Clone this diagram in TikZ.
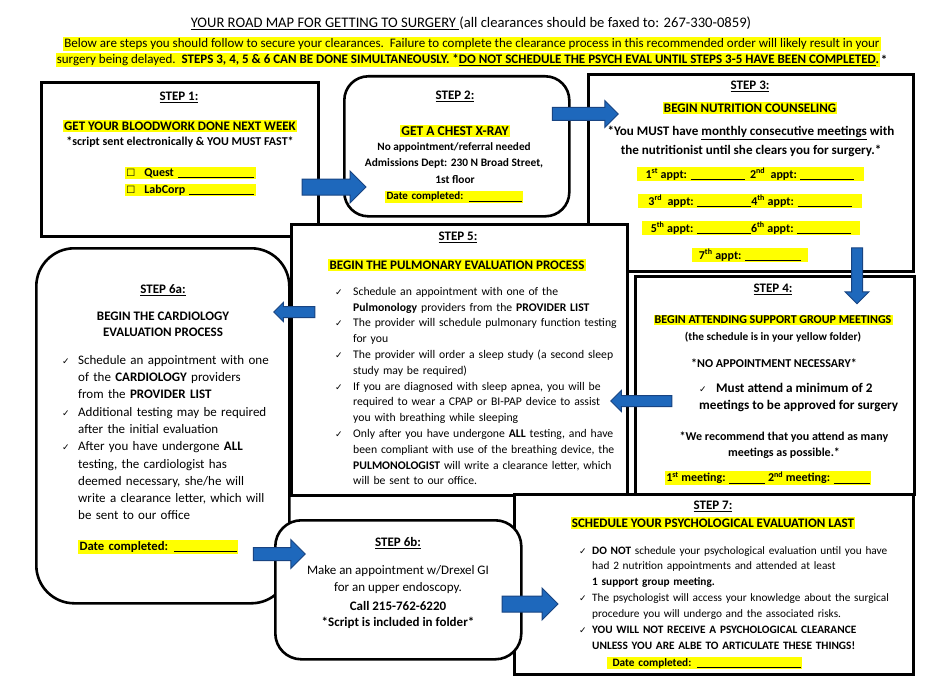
\documentclass[tikz,border=0pt]{standalone}
\usepackage{fontspec}
\setmainfont{Carlito}
\newfontfamily\symfont{DejaVu Sans}
\usetikzlibrary{shapes.arrows}

\definecolor{hlyellow}{RGB}{255,255,0}
\definecolor{arrowblue}{RGB}{30,104,188}
\definecolor{arrowedge}{RGB}{24,68,130}

\newlength\ckw
\newcommand\chk{{\symfont\fontsize{9}{9}\selectfont ✓}}
\newcommand\citem{\makebox[\ckw][l]{\chk}}
\newcommand\cindent{\hspace*{\ckw}}
\newcommand\ckbox{{\symfont\fontsize{10}{10}\selectfont ☐}}
\newcommand\blank[1]{\rule[-1.4pt]{#1}{0.6pt}}
\newcommand\fillblank{\leavevmode\leaders\hrule height -0.8pt depth 1.4pt\hfill\kern0pt}

\begin{document}
\begin{tikzpicture}[x=1pt, y=-1pt,
  box/.style={draw, line width=2.6pt, fill=white, inner sep=0pt, anchor=north west},
  stepno/.style={font=\bfseries\fontsize{13}{15}\selectfont, inner sep=0pt},
  bold/.style={font=\bfseries\fontsize{12}{14}\selectfont, inner sep=0pt},
  plain/.style={font=\fontsize{12}{14}\selectfont, inner sep=0pt},
  hilite/.style={fill=hlyellow, inner sep=1.2pt},
  checks/.style={align=left, anchor=north west, inner sep=0pt},
  barrow/.style={single arrow, draw=arrowedge, fill=arrowblue, line width=1pt,
                 inner xsep=0pt, inner ysep=7.5pt, single arrow head extend=8pt}
]
\useasboundingbox (0,0) rectangle (944,690);

% header
\node[plain, font=\fontsize{14.6}{16}\selectfont] (title) at (471,23)
  {\underline{YOUR ROAD MAP FOR GETTING TO SURGERY\ }(all clearances should be faxed to: 267-330-0859)};
\node[plain, hilite, font=\fontsize{13}{15}\selectfont] (intro1) at (472,44)
  {Below are steps you should follow to secure your clearances.\ \ Failure to complete the clearance process in this recommended order will likely result in your};
\node[plain, hilite, font=\fontsize{13}{15}\selectfont] (intro2) at (468,60)
  {surgery being delayed.\ \ \textbf{STEPS 3, 4, 5 \& 6 CAN BE DONE SIMULTANEOUSLY. *\underline{DO NOT SCHEDULE THE PSYCH EVAL UNTIL STEPS 3-5 HAVE BEEN COMPLETED}.}};
\node[bold, anchor=west, font=\bfseries\fontsize{13}{15}\selectfont] (star) at (intro2.east) {*};

% boxes
\node[box, minimum width=277pt, minimum height=154pt] (s1) at (40,81) {};
\node[box, rounded corners=24pt, minimum width=225pt, minimum height=140pt] (s2) at (343,75) {};
\node[box, minimum width=325pt, minimum height=197pt] (s3) at (587,73) {};
\node[box, minimum width=279pt, minimum height=218pt] (s4) at (634,275) {};
\node[box, minimum width=336pt, minimum height=271pt] (s5) at (290,223) {};
\node[box, rounded corners=38pt, minimum width=253pt, minimum height=355pt] (s6a) at (35,247) {};
\node[box, minimum width=399pt, minimum height=180pt] (s7) at (513,493) {};
\node[box, rounded corners=26pt, minimum width=246pt, minimum height=139pt] (s6b) at (274,519) {};

% step 1
\node[stepno] (t1) at (179,97) {\underline{STEP 1:}};
\node[stepno, hilite] (h1) at (180,126) {GET YOUR BLOODWORK DONE NEXT WEEK};
\node[bold] (n1) at (180,142) {*script sent electronically \& YOU MUST FAST*};
\node[bold, hilite, anchor=west, text width=128pt, align=left] (quest) at (125,173)
  {\ckbox\hspace{9pt}Quest \fillblank};
\node[bold, hilite, anchor=west, text width=128pt, align=left] (labcorp) at (125,190)
  {\ckbox\hspace{9pt}LabCorp \fillblank};

% step 2
\node[stepno] (t2) at (455,96) {\underline{STEP 2:}};
\node[stepno, hilite, font=\bfseries\fontsize{13.5}{15}\selectfont] (h2) at (455,131) {GET A CHEST X-RAY};
\node[bold, font=\bfseries\fontsize{11.2}{13}\selectfont] (n2a) at (454,147) {No appointment/referral needed};
\node[bold, font=\bfseries\fontsize{11.4}{13}\selectfont] (n2b) at (454,163) {Admissions Dept: 230 N Broad Street,};
\node[bold, font=\bfseries\fontsize{11.4}{13}\selectfont] (n2c) at (455,180) {1st floor};
\node[bold, hilite, font=\bfseries\fontsize{11}{13}\selectfont, text width=135pt, align=left] (d2) at (454,197)
  {Date completed: \fillblank};

% step 3
\node[stepno] (t3) at (750,86) {\underline{STEP 3:}};
\node[stepno, hilite] (h3) at (750,108) {BEGIN NUTRITION COUNSELING};
\node[bold, font=\bfseries\fontsize{13.1}{15}\selectfont] (n3a) at (751,133)
  {*You MUST have \underline{monthly consecutive meetings} with};
\node[bold, font=\bfseries\fontsize{13.1}{15}\selectfont] (n3b) at (751,151)
  {the nutritionist until she clears you for surgery.*};
\node[bold, hilite, minimum width=227pt] (ap12) at (750,174)
  {1\textsuperscript{st} appt: \blank{54pt}\ \ 2\textsuperscript{nd}\ \ appt: \blank{54pt}};
\node[bold, hilite, minimum width=224pt] (ap34) at (750,201)
  {3\textsuperscript{rd}\ \ appt: \blank{54pt}4\textsuperscript{th} appt: \blank{54pt}};
\node[bold, hilite, minimum width=218pt] (ap56) at (751,228)
  {5\textsuperscript{th} appt: \blank{54pt}6\textsuperscript{th} appt: \blank{54pt}};
\node[bold, hilite, minimum width=116pt] (ap7) at (750,255)
  {7\textsuperscript{th} appt: \blank{56pt}};

% step 4
\node[stepno] (t4) at (773,289) {\underline{STEP 4:}};
\node[bold, hilite] (h4) at (773,320) {BEGIN ATTENDING SUPPORT GROUP MEETINGS};
\node[bold, font=\bfseries\fontsize{11.3}{13}\selectfont] (n4a) at (773,337) {(the schedule is in your yellow folder)};
\node[bold] (n4b) at (774,363) {*NO APPOINTMENT NECESSARY*};
\node[checks, font=\bfseries\fontsize{13.2}{17}\selectfont\setlength\ckw{17pt}] (l4) at (699,383)
  {\citem Must attend a minimum of 2\\meetings to be approved for surgery};
\node[bold] (n4c) at (784,437) {*We recommend that you attend as many};
\node[bold] (n4d) at (784,453) {meetings as possible.*};
\node[bold, hilite, minimum width=206pt] (mt) at (768,478)
  {1\textsuperscript{st} meeting: \blank{36pt}\ 2\textsuperscript{nd} meeting: \blank{36pt}};

% step 5
\node[stepno] (t5) at (458,237) {\underline{STEP 5:}};
\node[stepno, hilite] (h5) at (457,265) {BEGIN THE PULMONARY EVALUATION PROCESS};
\node[checks, text width=285pt, font=\fontsize{11.7}{15.8}\selectfont\setlength\ckw{18pt}] (l5) at (335,287)
  {\citem Schedule an appointment with one of the\\
   \cindent \textbf{Pulmonology} providers from the \textbf{PROVIDER LIST}\\
   \citem The provider will schedule pulmonary function testing\\
   \cindent for you\\
   \citem The provider will order a sleep study (a second sleep\\
   \cindent study may be required)\\
   \citem If you are diagnosed with sleep apnea, you will be\\
   \cindent required to wear a CPAP or BI-PAP device to assist\\
   \cindent you with breathing while sleeping\\
   \citem Only after you have undergone \textbf{ALL} testing, and have\\
   \cindent been compliant with use of the breathing device, the\\
   \cindent \textbf{PULMONOLOGIST} will write a clearance letter, which\\
   \cindent will be sent to our office.};

% step 6a
\node[stepno] (t6a) at (163,290) {\underline{STEP 6a:}};
\node[bold, font=\bfseries\fontsize{13}{16}\selectfont, align=center] (h6a) at (163,324)
  {BEGIN THE CARDIOLOGY\\EVALUATION PROCESS};
\node[checks, text width=215pt, font=\fontsize{13}{17.3}\selectfont\setlength\ckw{16pt}] (l6a) at (62,355)
  {\citem Schedule an appointment with one\\
   \cindent of the \textbf{CARDIOLOGY} providers\\
   \cindent from the \textbf{PROVIDER LIST}\\
   \citem Additional testing may be required\\
   \cindent after the initial evaluation\\
   \citem After you have undergone \textbf{ALL}\\
   \cindent testing, the cardiologist has\\
   \cindent deemed necessary, she/he will\\
   \cindent write a clearance letter, which will\\
   \cindent be sent to our office};
\node[bold, hilite, font=\bfseries\fontsize{12.7}{14}\selectfont, text width=157pt, align=left] (d6a) at (158,547)
  {Date completed: \fillblank};

% step 6b
\node[stepno] (t6b) at (398,543) {\underline{STEP 6b:}};
\node[plain, font=\fontsize{13}{17}\selectfont, align=center] (n6b) at (398,580)
  {Make an appointment w/Drexel GI\\for an upper endoscopy.};
\node[bold, font=\bfseries\fontsize{13}{15}\selectfont] (c6b) at (398,606) {Call 215-762-6220};
\node[bold, font=\bfseries\fontsize{13}{15}\selectfont] (s6bn) at (398,623) {*Script is included in folder*};

% step 7
\node[stepno] (t7) at (713,506) {\underline{STEP 7:}};
\node[stepno, hilite] (h7) at (713,523) {SCHEDULE YOUR PSYCHOLOGICAL EVALUATION LAST};
\node[checks, text width=318pt, font=\fontsize{11.3}{15.9}\selectfont\setlength\ckw{13pt}] (l7) at (579,546)
  {\citem \textbf{DO NOT} schedule your psychological evaluation until you have\\
   \cindent had 2 nutrition appointments and attended at least\\
   \cindent \textbf{1 support group meeting.}\\
   \citem The psychologist will access your knowledge about the surgical\\
   \cindent procedure you will undergo and the associated risks.\\
   \citem \textbf{YOU WILL NOT RECEIVE A PSYCHOLOGICAL CLEARANCE}\\
   \cindent \textbf{UNLESS YOU ARE ALBE TO ARTICULATE THESE THINGS!}};
\node[bold, hilite, font=\bfseries\fontsize{11.3}{13}\selectfont, text width=192pt, align=left] (d7) at (704.5,663)
  {\hspace*{4pt}Date completed: \fillblank};

% arrows between steps
\node[barrow, minimum height=64pt] (a12) at (330,187) {};
\node[barrow, minimum height=66pt, inner ysep=6pt, single arrow head extend=7pt] (a23) at (582,114) {};
\node[barrow, rotate=-90, minimum height=56pt, inner ysep=5pt, single arrow head extend=6.5pt] (a34) at (857,273) {};
\node[barrow, rotate=180, minimum height=61pt, inner ysep=5pt, single arrow head extend=5pt] (a45) at (644,401) {};
\node[barrow, rotate=180, minimum height=41pt, inner ysep=5pt, single arrow head extend=4pt] (a56) at (297,312) {};
\node[barrow, minimum height=52pt, inner ysep=6pt] (a66) at (276,554) {};
\node[barrow, minimum height=56pt] (a67) at (526,604) {};

\end{tikzpicture}
\end{document}
